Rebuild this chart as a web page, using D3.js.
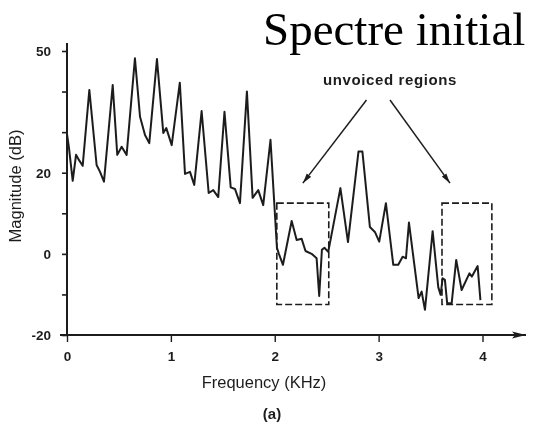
<!DOCTYPE html>
<html>
<head>
<meta charset="utf-8">
<script src="https://cdn.jsdelivr.net/npm/d3@7"></script>
<style>
  html, body { margin: 0; padding: 0; background: #fff; }
  svg { display: block; }
</style>
</head>
<body>
<svg id="chart" width="533" height="425"></svg>
<script>
// Spectrum samples: frequency (kHz) and magnitude (dB)
const freqKHz = [0, 0.019, 0.055, 0.087, 0.116, 0.151, 0.215, 0.285, 0.318, 0.356,
  0.440, 0.484, 0.526, 0.574, 0.654, 0.703, 0.751, 0.792, 0.866, 0.927,
  0.956, 1.008, 1.086, 1.136, 1.184, 1.225, 1.296, 1.364, 1.408, 1.456,
  1.516, 1.576, 1.617, 1.665, 1.732, 1.787, 1.841, 1.889, 1.959, 2.021,
  2.040, 2.079, 2.163, 2.211, 2.259, 2.296, 2.355, 2.403, 2.428, 2.454,
  2.478, 2.515, 2.632, 2.705, 2.806, 2.844, 2.916, 2.964, 3.006, 3.070,
  3.141, 3.189, 3.231, 3.263, 3.292, 3.385, 3.414, 3.446, 3.520, 3.574,
  3.597, 3.616, 3.638, 3.660, 3.703, 3.747, 3.799, 3.874, 3.898, 3.953, 3.980];
const magnitudeDB = [29.6, 26.1, 18.0, 24.4, 23.1, 21.7, 40.4, 21.9, 20.2, 17.8,
  41.6, 24.4, 26.4, 24.4, 48.2, 33.8, 29.3, 27.3, 48.0, 29.8,
  31.0, 26.8, 42.2, 19.7, 20.2, 17.0, 35.2, 15.0, 15.7, 14.0,
  35.0, 16.4, 16.0, 12.5, 40.0, 13.8, 15.7, 12.0, 28.1, 1.5,
  0.0, -2.7, 8.1, 3.4, 3.7, 0.7, 0.0, -1.1, -10.4, 1.0,
  1.5, 0.5, 16.2, 2.9, 25.2, 25.2, 6.6, 5.4, 3.0, 12.5,
  -2.7, -2.7, -0.7, -1.1, 7.7, -10.9, -9.3, -13.8, 5.6, -8.2,
  -10.1, -6.0, -6.4, -12.2, -12.2, -1.5, -8.9, -4.8, -5.6, -3.0, -11.4];

// Axis ticks
const xTicks = [0, 1, 2, 3, 4];
const yTicks = [-20, -10, 0, 10, 20, 30, 40, 50];
const yTickLabels = [-20, 0, 20, 50];

// Highlighted unvoiced regions: frequency span and magnitude span
const regionStartKHz = [2.02, 3.61];
const regionEndKHz = [2.52, 4.09];
const regionLowDB = [-12.5, -12.5];
const regionHighDB = [12.5, 12.5];

// Annotation and title
const annotationText = "unvoiced regions";
const titleText = "Spectre initial";

const svg = d3.select("#chart");
const ink = "#1e1e1e";
const sans = "'Liberation Sans', Arial, Helvetica, sans-serif";

const x = d3.scaleLinear().domain([0, 4]).range([67, 482.5]);
const y = d3.scaleLinear().domain([-20, 50]).range([335, 51]);

const defs = svg.append("defs");
defs.append("filter").attr("id", "soft")
  .attr("x", "-5%").attr("y", "-5%").attr("width", "110%").attr("height", "110%")
  .append("feGaussianBlur").attr("stdDeviation", 0.6);
defs.append("marker").attr("id", "head")
  .attr("viewBox", "0 0 10 6").attr("refX", 10).attr("refY", 3)
  .attr("markerWidth", 10).attr("markerHeight", 6)
  .attr("markerUnits", "userSpaceOnUse")
  .attr("orient", "auto")
  .append("path").attr("d", "M0,0.3 L10,3 L0,5.7 Z").attr("fill", ink);
defs.append("marker").attr("id", "axisHead")
  .attr("viewBox", "0 0 14 8").attr("refX", 14).attr("refY", 4)
  .attr("markerWidth", 14).attr("markerHeight", 8)
  .attr("markerUnits", "userSpaceOnUse")
  .attr("orient", "auto")
  .append("path").attr("d", "M0,0.5 L14,4 L0,7.5 L3,4 Z").attr("fill", ink);

const g = svg.append("g").attr("filter", "url(#soft)");

// Y axis: ticks every 10 dB, labels on selected values only
const yAxis = d3.axisLeft(y).tickValues(yTicks).tickSize(5)
  .tickFormat(d => yTickLabels.includes(d) ? d : "");
const gy = g.append("g").attr("transform", `translate(${x(0)},0)`).call(yAxis);
gy.select(".domain").remove();
gy.selectAll(".tick line").attr("stroke", ink).attr("stroke-width", 1.6);
gy.selectAll(".tick text").attr("x", -16)
  .attr("font-family", sans).attr("font-size", 13.5).attr("font-weight", "bold")
  .attr("fill", ink);
g.append("line")
  .attr("x1", x(0)).attr("x2", x(0))
  .attr("y1", y(50) - 8).attr("y2", y(-20))
  .attr("stroke", ink).attr("stroke-width", 2);

// X axis with arrow
const xAxis = d3.axisBottom(x).tickValues(xTicks).tickSize(7).tickFormat(d3.format("d"));
const gx = g.append("g").attr("transform", `translate(0,${y(-20)})`).call(xAxis);
gx.select(".domain").remove();
gx.selectAll(".tick line").attr("stroke", ink).attr("stroke-width", 1.4);
gx.selectAll(".tick text").attr("y", 16)
  .attr("font-family", sans).attr("font-size", 13.5).attr("font-weight", "bold")
  .attr("fill", ink);
g.append("line")
  .attr("x1", x(0) - 7).attr("x2", 526)
  .attr("y1", y(-20)).attr("y2", y(-20))
  .attr("stroke", ink).attr("stroke-width", 2)
  .attr("marker-end", "url(#axisHead)");

// Axis titles
g.append("text")
  .attr("transform", `translate(21,${(y(50) + y(-20)) / 2 - 7}) rotate(-90)`)
  .attr("text-anchor", "middle")
  .attr("font-family", sans).attr("font-size", 16.5).attr("fill", ink)
  .text("Magnitude (dB)");
g.append("text")
  .attr("x", 264).attr("y", 388)
  .attr("text-anchor", "middle")
  .attr("font-family", sans).attr("font-size", 16.5).attr("fill", ink)
  .text("Frequency (KHz)");
g.append("text")
  .attr("x", 272).attr("y", 419)
  .attr("text-anchor", "middle")
  .attr("font-family", sans).attr("font-size", 15).attr("font-weight", "bold").attr("fill", ink)
  .text("(a)");

// Spectrum line
const pts = freqKHz.map((f, i) => [f, magnitudeDB[i]]);
g.append("path")
  .datum(pts)
  .attr("fill", "none")
  .attr("stroke", ink)
  .attr("stroke-width", 2)
  .attr("stroke-linejoin", "round")
  .attr("d", d3.line().x(d => x(d[0])).y(d => y(d[1])));

// Dashed region boxes
const regions = regionStartKHz.map((s, i) => ({
  s, e: regionEndKHz[i], lo: regionLowDB[i], hi: regionHighDB[i]
}));
g.selectAll("rect.region").data(regions).join("rect")
  .attr("class", "region")
  .attr("x", d => x(d.s)).attr("y", d => y(d.hi))
  .attr("width", d => x(d.e) - x(d.s)).attr("height", d => y(d.lo) - y(d.hi))
  .attr("fill", "none").attr("stroke", ink).attr("stroke-width", 1.6)
  .attr("stroke-dasharray", "7,3");

// Annotation with arrows pointing to each region
g.append("text")
  .attr("x", 390).attr("y", 85)
  .attr("text-anchor", "middle")
  .attr("font-family", sans).attr("font-size", 15).attr("font-weight", "bold")
  .attr("letter-spacing", 0.6).attr("fill", ink)
  .text(annotationText);
const arrowStart = [[366.5, 100], [390, 100]];
const arrowEnd = regions.map((d, i) => [i === 0 ? x(d.s) + 26 : x(d.s) + 8, y(d.hi) - 20]);
g.selectAll("line.arrow").data(arrowStart).join("line")
  .attr("class", "arrow")
  .attr("x1", d => d[0]).attr("y1", d => d[1])
  .attr("x2", (d, i) => arrowEnd[i][0]).attr("y2", (d, i) => arrowEnd[i][1])
  .attr("stroke", ink).attr("stroke-width", 1.5)
  .attr("marker-end", "url(#head)");

// Title
svg.append("text")
  .attr("x", 263).attr("y", 45)
  .attr("font-family", "'Liberation Serif', 'Times New Roman', serif")
  .attr("font-size", 47).attr("fill", "#000")
  .text(titleText);
</script>
</body>
</html>
